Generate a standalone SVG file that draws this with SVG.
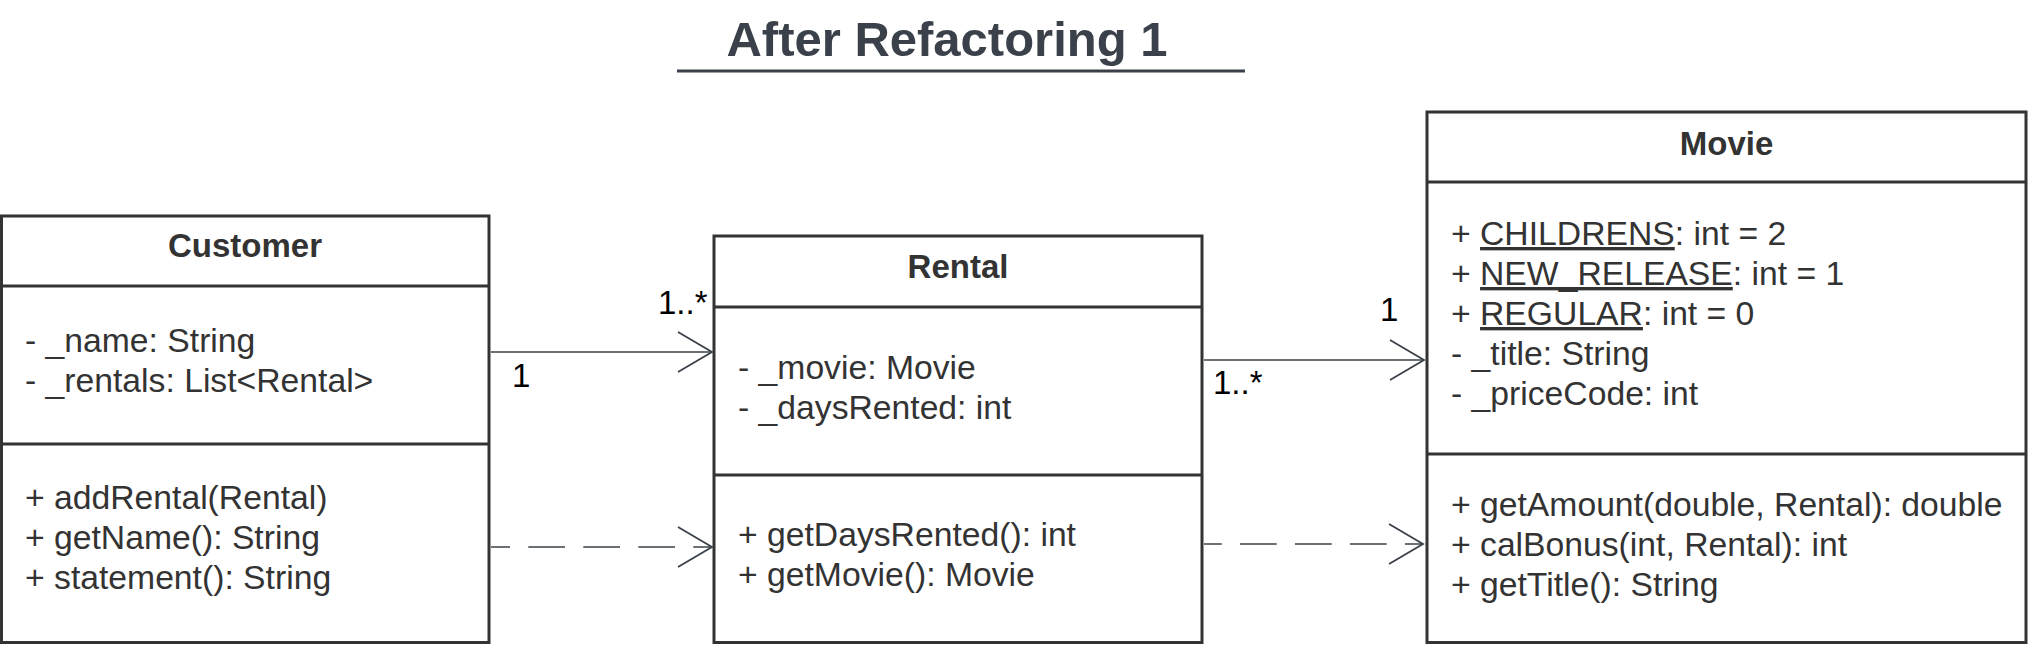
<svg xmlns="http://www.w3.org/2000/svg" width="2029" height="645" viewBox="0 0 2029 645">
<style>
.box{fill:#fff;stroke:#333;stroke-width:3}
.div{stroke:#333;stroke-width:3}
.t{font-family:"Liberation Sans",Arial,sans-serif;font-size:33.7px;fill:#333}
.h{font-family:"Liberation Sans",Arial,sans-serif;font-size:33px;font-weight:bold;fill:#333;text-anchor:middle}
.lbl{font-family:"Liberation Sans",Arial,sans-serif;font-size:33px;fill:#000}
.edge{fill:none;stroke:#3a414a;stroke-width:1.6}
.dash{stroke-dasharray:36.7 18.3}
.u{text-decoration:underline}
</style>
<defs>
<marker id="open" viewBox="-36 -22 40 44" refX="0" refY="0" markerWidth="40" markerHeight="44" markerUnits="userSpaceOnUse" orient="auto">
<path d="M-34,-20 L0,0 L-34,20" fill="none" stroke="#3a414a" stroke-width="1.8"/>
</marker>
</defs>
<g id="title">
<text x="947" y="56" font-family="Liberation Sans, Arial, sans-serif" font-size="49" font-weight="bold" fill="#3a414a" text-anchor="middle">After Refactoring 1</text>
<line x1="677" y1="71" x2="1245" y2="71" stroke="#3a414a" stroke-width="3"/>
</g>
<g id="customer">
<rect class="box" x="1.5" y="216" width="487.5" height="426.5"/>
<line class="div" x1="1.5" y1="286" x2="489" y2="286"/>
<line class="div" x1="1.5" y1="444" x2="489" y2="444"/>
<text class="h" x="245" y="257">Customer</text>
<text class="t" x="25" y="352">- _name: String</text>
<text class="t" x="25" y="392">- _rentals: List&lt;Rental&gt;</text>
<text class="t" x="25" y="509">+ addRental(Rental)</text>
<text class="t" x="25" y="549">+ getName(): String</text>
<text class="t" x="25" y="589">+ statement(): String</text>
</g>
<g id="rental">
<rect class="box" x="714" y="236" width="488" height="406.5"/>
<line class="div" x1="714" y1="307" x2="1202" y2="307"/>
<line class="div" x1="714" y1="475" x2="1202" y2="475"/>
<text class="h" x="958" y="278">Rental</text>
<text class="t" x="738" y="379">- _movie: Movie</text>
<text class="t" x="738" y="419">- _daysRented: int</text>
<text class="t" x="738" y="546">+ getDaysRented(): int</text>
<text class="t" x="738" y="586">+ getMovie(): Movie</text>
</g>
<g id="movie">
<rect class="box" x="1427" y="112" width="599" height="530.5"/>
<line class="div" x1="1427" y1="182" x2="2026" y2="182"/>
<line class="div" x1="1427" y1="454" x2="2026" y2="454"/>
<text class="h" x="1726.5" y="155">Movie</text>
<text class="t" x="1451" y="245">+ <tspan class="u">CHILDRENS</tspan>: int = 2</text>
<text class="t" x="1451" y="285">+ <tspan class="u">NEW_RELEASE</tspan>: int = 1</text>
<text class="t" x="1451" y="325">+ <tspan class="u">REGULAR</tspan>: int = 0</text>
<text class="t" x="1451" y="365">- _title: String</text>
<text class="t" x="1451" y="405">- _priceCode: int</text>
<text class="t" x="1451" y="516">+ getAmount(double, Rental): double</text>
<text class="t" x="1451" y="556">+ calBonus(int, Rental): int</text>
<text class="t" x="1451" y="596">+ getTitle(): String</text>
</g>
<g id="connectors">
<path class="edge" d="M491,352 H712" marker-end="url(#open)"/>
<path class="edge dash" d="M491,547 H712" stroke-dashoffset="17.7" marker-end="url(#open)"/>
<path class="edge" d="M1204,360 H1424" marker-end="url(#open)"/>
<path class="edge dash" d="M1204,544 H1423" stroke-dashoffset="19" marker-end="url(#open)"/>
<text class="lbl" x="512" y="387">1</text>
<text class="lbl" x="658" y="314">1..*</text>
<text class="lbl" x="1380" y="321">1</text>
<text class="lbl" x="1213" y="394">1..*</text>
</g>
</svg>
